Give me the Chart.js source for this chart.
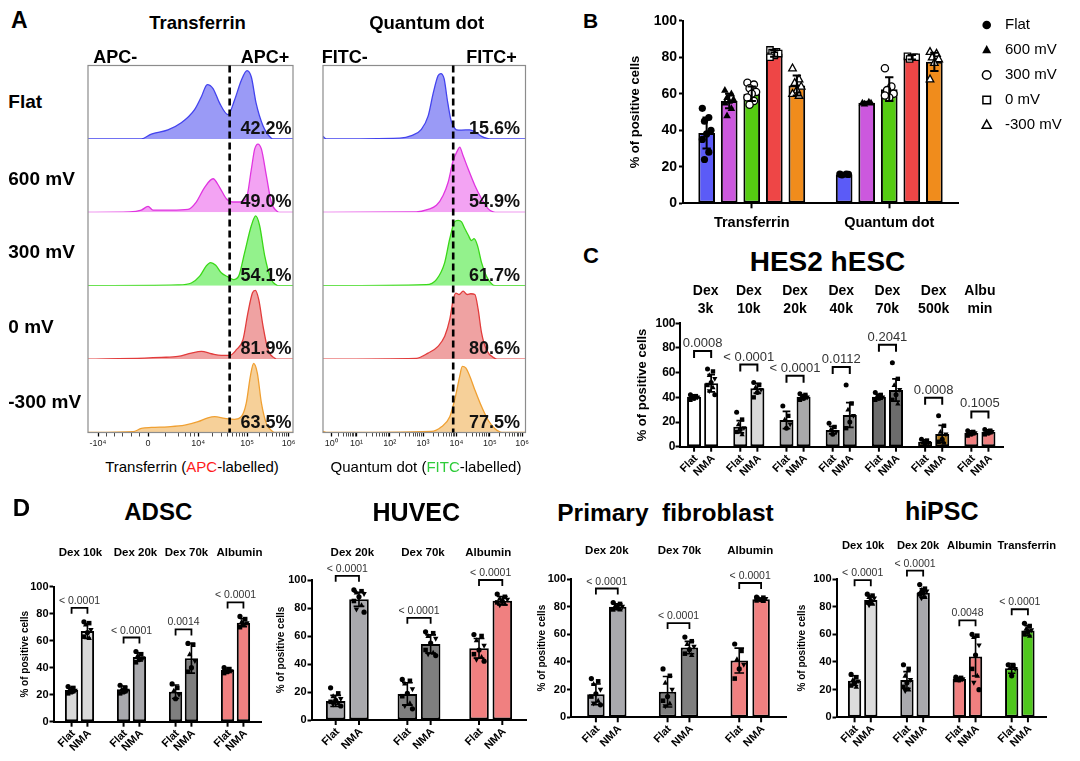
<!DOCTYPE html>
<html><head><meta charset="utf-8"><title>Figure</title>
<script src="https://cdn.jsdelivr.net/npm/chart.js@4/dist/chart.umd.min.js"></script>
<style>
html,body{margin:0;padding:0;background:#fff;}
body{position:relative;width:1080px;height:761px;overflow:hidden;}
.t{position:absolute;white-space:pre;color:#000;}
</style></head><body>
<script>
const FONT = '"Liberation Sans", Arial, Helvetica, sans-serif';

// ================= DATA =================
// Panel A: flow cytometry histograms. Each point = [position along display axis (0-100), count (% of row max)]
const rowLabels = ['Flat', '600 mV', '300 mV', '0 mV', '-300 mV'];
const tfFlat = [[0,0],[26,0],[30.9,6.6],[39,12.4],[45.5,22],[52,40],[55.3,57.5],[58.2,74],[61,68.6],[64.2,48.7],[68.3,33],[71.5,53],[74.8,80],[77.6,93],[79.7,84],[82,48.7],[85.4,17.7],[89.4,1],[90.5,0],[100,0]];
const tf600 = [[0,0],[20.3,0.5],[26,3],[29.3,8],[31.7,3],[40.6,3],[48.8,4],[52.8,14],[56.9,34],[61,45.7],[64.2,34],[67.5,18.5],[70.7,14],[74,14],[77.2,18.5],[79.7,59],[81.3,86],[82.9,93],[84.6,86],[87,50],[89.4,14],[92.7,0.5],[93.5,0],[100,0]];
const tf300 = [[0,0],[43.9,1],[50.4,3.7],[54.5,13],[57.7,27],[59.8,31.5],[62.3,27.8],[65,17.6],[68.3,12],[71,8.3],[73.5,13],[76.4,45],[79.7,82],[81.8,95],[83.7,82],[86.2,40.7],[89.4,8.3],[91.9,1],[93,0],[100,0]];
const tf0 = [[0,0],[27.6,1.4],[35.8,2.3],[43.9,3.7],[50.4,8.2],[55.3,10.5],[60.2,7.3],[65,5],[69.1,5],[72.4,12.8],[75.6,26.5],[78,63],[80.2,90],[81.6,93.6],[83.3,81],[85.4,44.7],[87.8,12.8],[91,1.4],[92,0],[100,0]];
const tfNeg300 = [[0,0],[22,1],[26,5.5],[30.9,6.9],[39,7.8],[47.2,10],[53.7,14.7],[58.5,20],[61.8,21.6],[66.7,19.3],[71.5,18],[74.8,21.6],[77.2,40],[79.2,76.6],[80.8,94],[82.6,81],[84.6,40],[87,12.4],[90.2,1],[91,0],[100,0]];
const qdFlat = [[0,3.5],[1.6,0],[37.9,1],[43.7,4.4],[48.6,13],[51.9,31],[54.4,62],[56.8,86],[58.2,89],[59.8,82],[61.4,53],[63.1,26.5],[64.3,17.7],[65.9,12.4],[68.4,12],[72.5,12.4],[75,9.7],[78.3,3.5],[81.5,0.5],[83,0],[100,0]];
const qd600 = [[0,0],[46.1,0.5],[51.9,4],[56,9.5],[59.3,23],[61.8,41],[64.3,70.6],[66.4,84],[67.5,88.7],[69.2,77],[71.7,59],[75,36.6],[78.3,18.5],[81.5,5],[84,0.5],[85,0],[100,0]];
const qd300 = [[0,0],[51,1.4],[56,8.3],[60.1,31.5],[62.6,64],[65,87],[66.7,89],[68.4,87],[70,78],[71.7,69],[73.3,61.6],[74.6,64],[76.3,54.6],[78.3,31.5],[80.7,13],[83.2,2.8],[85,0],[100,0]];
const qd0 = [[0,0],[46.1,1],[51.9,8.2],[56.8,17.4],[60.1,31],[62.6,54],[64.3,81],[65.6,90],[67.2,88],[69.2,92.7],[71.2,88],[73,89],[75,88],[76.6,68],[78.3,35.6],[80.7,12.8],[84.8,1],[86,0],[100,0]];
const qdNeg300 = [[0,1.5],[2,0],[53.5,1.5],[58.5,7.8],[62.6,21.6],[65.4,49],[67.5,76.6],[68.8,90],[70.5,88],[72.5,76.6],[75,58],[78.3,35.3],[81.5,17],[84.8,5.5],[87.3,1],[89,0],[100,0]];
const tfPercent = ['42.2%', '49.0%', '54.1%', '81.9%', '63.5%'];
const qdPercent = ['15.6%', '54.9%', '61.7%', '80.6%', '77.5%'];
const tfGate = 69.1;
const qdGate = 64.3;
const tfTickPos = [4.9, 29.3, 53.7, 77.6, 97.9];
const tfTickLabels = ['-10⁴', '0', '10⁴', '10⁵', '10⁶'];
const qdTickPos = [4.1, 16.5, 33, 49.4, 65.9, 82.4, 98.3];
const qdTickLabels = ['10⁰', '10¹', '10²', '10³', '10⁴', '10⁵', '10⁶'];

// Panel B
const bCategories = ['Transferrin', 'Quantum dot'];
const bSeries = ['Flat', '600 mV', '300 mV', '0 mV', '-300 mV'];
const bMeanFlat = [38.5, 15.8];
const bMean600 = [56, 55];
const bMean300 = [60, 62.5];
const bMean0 = [82, 80];
const bMeanNeg300 = [64.5, 77.5];
const bSdFlat = [8.5, 0.5];
const bSd600 = [4, 0.6];
const bSd300 = [4, 6.5];
const bSd0 = [1.8, 1.2];
const bSdNeg300 = [5.5, 5];
const bPtsFlat = [[52,47,45,40,38,35,28,24],[16,16,15.5,15.8]];
const bPts600 = [[62,60,58,57,56,55,52,48],[55,55.5,54.5,55]];
const bPts300 = [[66,65,63,61,60,58,56,54],[74,64,62,60,58,59]];
const bPts0 = [[84,83,82.5,82,81,80],[80.5,80,79,80]];
const bPtsNeg300 = [[74,68,66,64,62,60,59],[83,82,80,79,77,68]];

// Panel C (HES2 hESC)
const cGroups = [['Dex','3k'],['Dex','10k'],['Dex','20k'],['Dex','40k'],['Dex','70k'],['Dex','500k'],['Albu','min']];
const cFlatMean = [40.5, 16.2, 21.6, 13.5, 40.5, 4, 11.4];
const cFlatSd = [1.5, 5, 7, 3, 2, 1.5, 1.5];
const cNmaMean = [51.4, 47.3, 40.5, 25.7, 46, 10.3, 12.2];
const cNmaSd = [7, 4, 1.5, 10, 9, 7, 1.5];
const cFlatPts = [[42,41,40.5,40,39,38],[28,22,18,15,14,12,10],[33,25,22,18,15],[19,16,14,12,10],[44,42,41,40,39,38],[6,5,4,3,2.5],[13,12,11.5,11,10,9]];
const cNmaPts = [[63,61,58,55,52,50,48,45,42],[52,50,48,46,44,40],[43,42,41,40,39,38],[50,35,30,25,20,15],[68,55,50,46,42,38,35],[25,17,12,10,6,4,3],[14,13,12.5,12,11,10]];
const cPvalues = ['0.0008', '< 0.0001', '< 0.0001', '0.0112', '0.2041', '0.0008', '0.1005'];

// Panel D: ADSC
const adscGroups = ['Dex 10k', 'Dex 20k', 'Dex 70k', 'Albumin'];
const adscFlatMean = [23.5, 24, 22.2, 38.3];
const adscFlatSd = [2, 2.5, 5, 1.5];
const adscNmaMean = [67.2, 48, 47, 73.3];
const adscNmaSd = [5.5, 3, 11, 3];
const adscFlatPts = [[26,25,24,23,22,21],[27,25,24,23,22,21],[28,25,23,20,17],[40,39,38,37.5,37,36]];
const adscNmaPts = [[74,73,72,68,66,63,62],[52,50,49,47,46,44],[58,57,50,45,40,37],[78,76,74,73,72,70]];
const adscPvalues = ['< 0.0001', '< 0.0001', '0.0014', '< 0.0001'];
// HUVEC
const huvecGroups = ['Dex 20k', 'Dex 70k', 'Albumin'];
const huvecFlatMean = [13.6, 18.6, 51.2];
const huvecFlatSd = [4, 8, 7];
const huvecNmaMean = [86.2, 54.3, 85.2];
const huvecNmaSd = [5, 6.5, 3];
const huvecFlatPts = [[23,19,17,15,14,13,12,11,10],[29,28,26,22,19,17,12,10,8],[61,60,57,53,50,47,45,43,42]];
const huvecNmaPts = [[93,92,91,90,88,85,82,79,77],[63,62,60,58,55,50,48,47,46],[90,88,87,86,85,84,83,82]];
const huvecPvalues = ['< 0.0001', '< 0.0001', '< 0.0001'];
// Primary fibroblast
const fibGroups = ['Dex 20k', 'Dex 70k', 'Albumin'];
const fibFlatMean = [16.6, 18.5, 41];
const fibFlatSd = [7.5, 11, 9];
const fibNmaMean = [80, 50.4, 85.3];
const fibNmaSd = [2, 4.5, 1];
const fibFlatPts = [[28,26,24,20,17,15,12,10,9],[35,30,25,20,15,12,10,8],[53,48,42,38,35,28]];
const fibNmaPts = [[83,82,81,80,79,78,78],[58,55,53,51,49,46,45],[87,86.5,86,85.5,85,84.5,84]];
const fibPvalues = ['< 0.0001', '< 0.0001', '< 0.0001'];
// hiPSC
const ipscGroups = ['Dex 10k', 'Dex 20k', 'Albumin', 'Transferrin'];
const ipscFlatMean = [26.5, 27, 27.7, 35.4];
const ipscFlatSd = [3.5, 6, 1, 3.5];
const ipscNmaMean = [84.8, 90, 43.9, 62.7];
const ipscNmaSd = [3, 3, 14, 3.5];
const ipscFlatPts = [[31,29,27,26,25,23,22],[38,35,30,27,25,22,20,19],[29,28.5,28,27.5,27,27],[38,37,36,35,30]];
const ipscNmaPts = [[89,88,87,86,84,83,82,81],[96,93,92,91,90,89,87,86],[60,59,58,52,45,35,30,25,20],[68,66,64,63,62,60,59]];
const ipscPvalues = ['< 0.0001', '< 0.0001', '0.0048', '< 0.0001'];

// ================= STYLE =================
const histColors = [
  {line:'#4343ee', fill:'#9a9af6'},
  {line:'#e035e0', fill:'#f3a3f3'},
  {line:'#3ad818', fill:'#93f28c'},
  {line:'#e23c3c', fill:'#efa2a2'},
  {line:'#f0a032', fill:'#f6d099'}
];
const bColors = ['#5b5bf7', '#cc58de', '#55cc12', '#ee4646', '#f08c1c'];
const cColors = ['#ffffff', '#d9d9d9', '#a8a8aa', '#8a8a8a', '#6c6c6c', '#b07a1e', '#f08080'];
const adscColors = ['#d9d9d9', '#a9a9ad', '#7f7f7f', '#f08080'];
const huvecColors = ['#a9a9ad', '#7f7f7f', '#f08080'];
const fibColors = ['#a9a9ad', '#7f7f7f', '#f08080'];
const ipscColors = ['#dcdcdc', '#a9a9ad', '#f08080', '#4fc71c'];

Chart.defaults.font.family = FONT;
Chart.defaults.color = '#000';

// ================= HELPERS =================
function place(id, box) {
  const c = document.createElement('canvas');
  c.id = id;
  c.width = box.r - box.l; c.height = box.b - box.t;
  c.style.cssText = `position:absolute;left:${box.l}px;top:${box.t}px;width:${c.width}px;height:${c.height}px;`;
  document.body.appendChild(c);
  return c;
}
function txt(html, x, base, size, weight, align) {
  const d = document.createElement('div');
  d.className = 't';
  d.innerHTML = html;
  d.style.fontFamily = FONT; d.style.fontSize = size + 'px'; d.style.fontWeight = weight; d.style.lineHeight = '1';
  d.style.left = x + 'px'; d.style.top = (base - 0.8465 * size) + 'px';
  if (align === 'center') d.style.transform = 'translateX(-50%)';
  else if (align === 'right') d.style.transform = 'translateX(-100%)';
  document.body.appendChild(d);
}
function mark(ctx, style, x, y, r, fill, stroke, lw) {
  ctx.beginPath();
  if (style === 'circle') ctx.arc(x, y, r, 0, Math.PI * 2);
  else if (style === 'rect') ctx.rect(x - r * 0.88, y - r * 0.88, r * 1.76, r * 1.76);
  else if (style === 'tri') { ctx.moveTo(x, y - r * 1.15); ctx.lineTo(x + r * 1.05, y + r * 0.75); ctx.lineTo(x - r * 1.05, y + r * 0.75); ctx.closePath(); }
  else if (style === 'itri') { ctx.moveTo(x, y + r * 1.15); ctx.lineTo(x + r * 1.05, y - r * 0.75); ctx.lineTo(x - r * 1.05, y - r * 0.75); ctx.closePath(); }
  ctx.fillStyle = fill; ctx.fill();
  if (lw) { ctx.lineWidth = lw; ctx.strokeStyle = stroke; ctx.stroke(); }
}

// ---------- histogram plugin ----------
const histDeco = {
  id: 'histDeco',
  afterDatasetsDraw(chart, args, o) {
    const ctx = chart.ctx, ca = chart.chartArea, xs = chart.scales.x;
    ctx.save();
    ctx.strokeStyle = '#8c8c8c'; ctx.lineWidth = 1.2;
    ctx.strokeRect(ca.left, ca.top, ca.right - ca.left, ca.bottom - ca.top);
    const gx = xs.getPixelForValue(o.gate);
    ctx.strokeStyle = '#000'; ctx.lineWidth = 2.6; ctx.setLineDash([7, 4]);
    ctx.beginPath(); ctx.moveTo(gx, ca.top); ctx.lineTo(gx, ca.bottom); ctx.stroke();
    ctx.setLineDash([]);
    ctx.font = `bold 18px ${FONT}`; ctx.fillStyle = '#111'; ctx.textAlign = 'right'; ctx.textBaseline = 'alphabetic';
    o.pcts.forEach((t, i) => { const s = chart.scales['r' + i]; ctx.fillText(t, ca.right - o.inset, s.bottom - 5); });
    ctx.restore();
  }
};

function histogram(id, box, area, curves, gate, pcts, tickPos, tickLab, minor, inset) {
  const c = place(id, box);
  const scales = {
    x: {
      type: 'linear', min: 0, max: 100, position: 'bottom',
      afterBuildTicks: s => {
        s.ticks = tickPos.map(v => ({value: v, major: true}))
          .concat(minor.map(v => ({value: v, major: false})))
          .sort((a, b) => a.value - b.value);
      },
      afterFit: s => { s.height = box.b - area.b; },
      ticks: {autoSkip: false, maxRotation: 0, minRotation: 0, padding: 2, font: {size: 9}, color: '#222',
        callback: v => { const k = tickPos.indexOf(v); return k >= 0 ? tickLab[k] : ''; }},
      grid: {display: true, drawOnChartArea: false, drawTicks: true, tickLength: 4, tickColor: '#000',
        tickWidth: ctx => (ctx.tick && ctx.tick.major) ? 1.3 : 0.7},
      border: {display: false}
    }
  };
  // stacked row axes: the last one defined is laid out on top, so add them bottom row first
  for (let i = 4; i >= 0; i--) {
    scales['r' + i] = {type: 'linear', min: 0, max: 100, display: false, position: 'left', stack: 'rows', stackWeight: 1, offset: false};
  }
  const datasets = curves.map((cv, i) => ({
    label: rowLabels[i],
    data: cv.map(p => ({x: p[0], y: p[1]})),
    xAxisID: 'x', yAxisID: 'r' + i,
    borderColor: histColors[i].line, backgroundColor: histColors[i].fill,
    fill: 'origin', borderWidth: 1.3, pointRadius: 0, cubicInterpolationMode: 'monotone'
  }));
  new Chart(c, {
    type: 'line',
    data: {datasets},
    options: {
      responsive: false, animation: false, devicePixelRatio: 1, events: [],
      layout: {padding: {left: area.l - box.l, top: area.t - box.t, right: box.r - area.r, bottom: 0}},
      plugins: {legend: {display: false}, tooltip: {enabled: false}, histDeco: {gate, pcts, inset}},
      scales
    },
    plugins: [histDeco]
  });
}

function logMinor(pos) {
  const out = [];
  for (let d = 0; d < pos.length - 1; d++) {
    for (let k = 2; k <= 9; k++) out.push(pos[d] + Math.log10(k) * (pos[d + 1] - pos[d]));
  }
  return out;
}

// ---------- bar decoration plugin ----------
const barDeco = {
  id: 'barDeco',
  afterDatasetsDraw(chart, args, o) {
    const ctx = chart.ctx, ys = chart.scales.y, ca = chart.chartArea;
    ctx.save();
    chart.data.datasets.forEach((ds, i) => {
      const meta = chart.getDatasetMeta(i);
      meta.data.forEach((bar, j) => {
        const w = bar.width, x = bar.x;
        (ds.pts[j] || []).forEach((v, k) => {
          const dx = (((k * 3) % 5) - 2) * w * o.spread;
          const st = ds.ptStyle || o.shapes[k % o.shapes.length];
          mark(ctx, st, x + dx, ys.getPixelForValue(v), o.ptR, ds.ptFill || '#000', '#000', ds.ptLine || 0);
        });
        const m = ds.data[j], s = ds.sd[j];
        const yt = ys.getPixelForValue(m + s), yb = ys.getPixelForValue(m - s), cw = w * o.cap;
        ctx.strokeStyle = '#000'; ctx.lineWidth = o.ebw;
        ctx.beginPath();
        ctx.moveTo(x, yt); ctx.lineTo(x, yb);
        ctx.moveTo(x - cw / 2, yt); ctx.lineTo(x + cw / 2, yt);
        ctx.moveTo(x - cw / 2, yb); ctx.lineTo(x + cw / 2, yb);
        ctx.stroke();
      });
    });
    if (o.p) {
      const m0 = chart.getDatasetMeta(0), m1 = chart.getDatasetMeta(1);
      o.p.forEach((t, j) => {
        const tops = [];
        [0, 1].forEach(i => { const ds = chart.data.datasets[i]; tops.push(ds.data[j] + ds.sd[j], ...ds.pts[j]); });
        const yb = ys.getPixelForValue(Math.max(...tops)) - o.gap;
        const x1 = m0.data[j].x, x2 = m1.data[j].x;
        ctx.strokeStyle = '#000'; ctx.lineWidth = o.bw;
        ctx.beginPath(); ctx.moveTo(x1, yb + o.leg); ctx.lineTo(x1, yb); ctx.lineTo(x2, yb); ctx.lineTo(x2, yb + o.leg); ctx.stroke();
        ctx.font = `${o.pSize}px ${FONT}`; ctx.fillStyle = '#333'; ctx.textAlign = 'center'; ctx.textBaseline = 'alphabetic';
        ctx.fillText(t, (x1 + x2) / 2, yb - o.pLift);
      });
    }
    if (o.rot) {
      chart.data.datasets.forEach((ds, i) => {
        chart.getDatasetMeta(i).data.forEach(bar => {
          ctx.strokeStyle = '#000'; ctx.lineWidth = 2;
          ctx.beginPath(); ctx.moveTo(bar.x, ca.bottom); ctx.lineTo(bar.x, ca.bottom + o.tick); ctx.stroke();
          ctx.save();
          ctx.translate(bar.x + o.rotDx, ca.bottom + o.tick + o.rotDy);
          ctx.rotate(-Math.PI / 4);
          ctx.font = `bold ${o.rot}px ${FONT}`; ctx.fillStyle = '#000'; ctx.textAlign = 'right'; ctx.textBaseline = 'middle';
          ctx.fillText(ds.label, 0, 0);
          ctx.restore();
        });
      });
    }
    if (o.gl) {
      const xs = chart.scales.x;
      ctx.font = `bold ${o.gl.size}px ${FONT}`; ctx.fillStyle = '#000'; ctx.textAlign = 'center'; ctx.textBaseline = 'alphabetic';
      chart.data.labels.forEach((lab, j) => {
        const lines = Array.isArray(lab) ? lab : [lab];
        const dx = o.gl.dx ? o.gl.dx[j] : 0;
        lines.forEach((ln, k) => ctx.fillText(ln, xs.getPixelForValue(j) + dx, o.gl.y[k] - o.oy));
      });
    }
    if (o.legend) {
      const L = o.legend;
      chart.data.datasets.forEach((ds, i) => {
        const y = L.y0 + i * L.dy - o.oy;
        mark(ctx, ds.ptStyle, L.x - o.ox, y, L.r, ds.ptFill, '#000', ds.ptLine ? 1.5 : 0);
        ctx.font = `${L.size}px ${FONT}`; ctx.fillStyle = '#000'; ctx.textAlign = 'left'; ctx.textBaseline = 'middle';
        ctx.fillText(ds.label, L.textX - o.ox, y);
      });
    }
    ctx.restore();
  }
};

function barChart(o) {
  const c = place(o.id, o.box);
  o.deco.ox = o.box.l; o.deco.oy = o.box.t;
  const xScale = o.xTicks ? {
    ticks: {display: true, font: {size: o.xTicks, weight: 'bold'}, color: '#000', padding: 6, maxRotation: 0, minRotation: 0, autoSkip: false},
    grid: {display: true, drawOnChartArea: false, offset: false, tickLength: 5, tickColor: '#000', tickWidth: 2},
    border: {display: true, color: '#000', width: 2},
    afterFit: s => { s.height = o.box.b - o.area.b; }
  } : {
    ticks: {display: false}, grid: {display: false},
    border: {display: true, color: '#000', width: 2},
    afterFit: s => { s.height = o.box.b - o.area.b; }
  };
  new Chart(c, {
    type: 'bar',
    data: {labels: o.labels, datasets: o.datasets.map(d => Object.assign({
      borderColor: '#000', borderWidth: 2, borderSkipped: false, categoryPercentage: o.cp, barPercentage: o.bp
    }, d))},
    options: {
      responsive: false, animation: false, devicePixelRatio: 1, events: [],
      layout: {padding: {left: o.area.l - o.box.l - o.yW, top: o.area.t - o.box.t, right: o.box.r - o.area.r, bottom: 0}},
      plugins: {legend: {display: false}, tooltip: {enabled: false}, barDeco: o.deco},
      scales: {
        x: xScale,
        y: {
          min: 0, max: 100,
          ticks: {stepSize: 20, font: {size: o.yTick, weight: 'bold'}, color: '#000', padding: o.yTickPad},
          grid: {display: true, drawOnChartArea: false, drawTicks: true, tickLength: 4, tickColor: '#000', tickWidth: 2},
          border: {display: true, color: '#000', width: 2},
          title: {display: true, text: '% of positive cells', font: {size: o.yTitle, weight: 'bold'}, color: '#000', padding: {top: 0, bottom: 0}},
          afterFit: s => { s.width = o.yW; }
        }
      }
    },
    plugins: [barDeco]
  });
}

function pairChart(id, box, area, yW, labels, colors, flat, nma, pvals, cp, bp, deco, fonts) {
  barChart({
    id, box, area, yW, labels, cp, bp,
    yTick: fonts.yTick, yTickPad: fonts.yTickPad, yTitle: fonts.yTitle,
    datasets: [
      {label: 'Flat', data: flat[0], sd: flat[1], pts: flat[2], backgroundColor: colors},
      {label: 'NMA', data: nma[0], sd: nma[1], pts: nma[2], backgroundColor: colors}
    ],
    deco: Object.assign({p: pvals, shapes: ['circle', 'rect', 'tri', 'itri'], spread: 0.13}, deco)
  });
}

// ================= PANEL A =================
histogram('tfHist', {l: 70, t: 58, r: 310, b: 458}, {l: 88, t: 65.5, r: 293, b: 432.5},
  [tfFlat, tf600, tf300, tf0, tfNeg300], tfGate, tfPercent, tfTickPos, tfTickLabels,
  logMinor([53.7, 77.6, 97.9]).concat([9, 13, 17, 21, 25, 38, 44, 47.5, 50, 51.8]), 1.5);
histogram('qdHist', {l: 305, t: 58, r: 545, b: 458}, {l: 323, t: 65.5, r: 525.5, b: 432.5},
  [qdFlat, qd600, qd300, qd0, qdNeg300], qdGate, qdPercent, qdTickPos, qdTickLabels,
  logMinor(qdTickPos), 5.5);

txt('A', 11, 28.5, 23, 'bold', 'left');
txt('Transferrin', 197.5, 30, 18.5, 'bold', 'center');
txt('Quantum dot', 426.7, 30, 18.5, 'bold', 'center');
txt('APC-', 93.3, 63.3, 18, 'bold', 'left');
txt('APC+', 289.3, 63.3, 18, 'bold', 'right');
txt('FITC-', 321.7, 63.3, 18, 'bold', 'left');
txt('FITC+', 516.7, 63.3, 18, 'bold', 'right');
const rowBase = [108.3, 185, 258.3, 333.3, 408.3];
rowLabels.forEach((r, i) => txt(r, 8.3, rowBase[i], 19, 'bold', 'left'));
txt('Transferrin (<span style="color:#ff1a1a">APC</span>-labelled)', 192, 472, 15, 'normal', 'center');
txt('Quantum dot (<span style="color:#2fcc3a">FITC</span>-labelled)', 426, 472, 15, 'normal', 'center');

// ================= PANEL B =================
barChart({
  id: 'bChart', box: {l: 628, t: 5, r: 1080, b: 240}, area: {l: 683, t: 20.7, r: 958, b: 203.3}, yW: 55,
  labels: bCategories, cp: 0.82, bp: 0.74, xTicks: 14.5, yTick: 14, yTickPad: 2, yTitle: 13,
  datasets: [
    {label: bSeries[0], data: bMeanFlat, sd: bSdFlat, pts: bPtsFlat, backgroundColor: bColors[0], ptStyle: 'circle', ptFill: '#000', ptLine: 0},
    {label: bSeries[1], data: bMean600, sd: bSd600, pts: bPts600, backgroundColor: bColors[1], ptStyle: 'tri', ptFill: '#000', ptLine: 0},
    {label: bSeries[2], data: bMean300, sd: bSd300, pts: bPts300, backgroundColor: bColors[2], ptStyle: 'circle', ptFill: '#fff', ptLine: 1.3},
    {label: bSeries[3], data: bMean0, sd: bSd0, pts: bPts0, backgroundColor: bColors[3], ptStyle: 'rect', ptFill: '#fff', ptLine: 1.3},
    {label: bSeries[4], data: bMeanNeg300, sd: bSdNeg300, pts: bPtsNeg300, backgroundColor: bColors[4], ptStyle: 'tri', ptFill: '#fff', ptLine: 1.3}
  ],
  deco: {ptR: 3.6, cap: 0.5, ebw: 2, spread: 0.13, shapes: ['circle'],
    legend: {x: 986.7, textX: 1005, y0: 25, dy: 25, size: 15, r: 4.3}}
});
txt('B', 583, 28, 21, 'bold', 'left');

// ================= PANEL C =================
pairChart('cChart', {l: 634, t: 280, r: 1008, b: 477}, {l: 679.5, t: 323.3, r: 1003, b: 446.7}, 45.3,
  cGroups, cColors, [cFlatMean, cFlatSd, cFlatPts], [cNmaMean, cNmaSd, cNmaPts], cPvalues, 0.74, 0.82,
  {ptR: 2.5, cap: 0.55, ebw: 1.8, gap: 18, leg: 7, bw: 2, pSize: 13, pLift: 4, rot: 11, tick: 5, rotDx: 2, rotDy: 5,
   gl: {y: [295.3, 312.7], size: 14, dx: [3, 0, 0, 0, 0, 0, 0]}},
  {yTick: 12, yTickPad: 0, yTitle: 13});
txt('C', 583, 263.3, 22, 'bold', 'left');
txt('HES2 hESC', 827.5, 271.7, 28, 'bold', 'center');

// ================= PANEL D =================
const dDeco = {ptR: 2.6, cap: 0.55, ebw: 1.6, gap: 14, leg: 6, bw: 1.8, pSize: 10.5, pLift: 4, rot: 11, tick: 5, rotDx: 2, rotDy: 5};
const dFonts = {yTick: 11, yTickPad: 1, yTitle: 10};
pairChart('adsc', {l: 17, t: 530, r: 266, b: 758}, {l: 53.5, t: 586.7, r: 261.5, b: 721.7}, 34.3,
  adscGroups, adscColors, [adscFlatMean, adscFlatSd, adscFlatPts], [adscNmaMean, adscNmaSd, adscNmaPts], adscPvalues, 0.61, 0.84,
  Object.assign({gl: {y: [556], size: 11.5, dx: [1, 4, 3, 4]}}, dDeco), dFonts);
pairChart('huvec', {l: 274, t: 530, r: 531, b: 758}, {l: 311.5, t: 580, r: 526.5, b: 720}, 36.3,
  huvecGroups, huvecColors, [huvecFlatMean, huvecFlatSd, huvecFlatPts], [huvecNmaMean, huvecNmaSd, huvecNmaPts], huvecPvalues, 0.65, 0.84,
  Object.assign({gl: {y: [556], size: 11.5, dx: [5, 4, -2.5]}}, dDeco), dFonts);
pairChart('fib', {l: 536, t: 530, r: 792, b: 757}, {l: 571, t: 579, r: 786, b: 717.3}, 35,
  fibGroups, fibColors, [fibFlatMean, fibFlatSd, fibFlatPts], [fibNmaMean, fibNmaSd, fibNmaPts], fibPvalues, 0.61, 0.8,
  Object.assign({gl: {y: [554], size: 11.5, dx: [0, 1, 0]}}, dDeco), dFonts);
pairChart('ipsc', {l: 796, t: 525, r: 1078, b: 757}, {l: 836.5, t: 579, r: 1046, b: 717.3}, 40,
  ipscGroups, ipscColors, [ipscFlatMean, ipscFlatSd, ipscFlatPts], [ipscNmaMean, ipscNmaSd, ipscNmaPts], ipscPvalues, 0.62, 0.82,
  Object.assign({gl: {y: [549], size: 11.2, dx: [0.5, 3, 2, 7]}}, dDeco), dFonts);

txt('D', 12.7, 516.7, 24, 'bold', 'left');
txt('ADSC', 158.3, 520, 24, 'bold', 'center');
txt('HUVEC', 416.3, 520.7, 25, 'bold', 'center');
txt('Primary  fibroblast', 665.5, 521.7, 24.5, 'bold', 'center');
txt('hiPSC', 941.7, 520, 25, 'bold', 'center');
</script>
</body></html>
